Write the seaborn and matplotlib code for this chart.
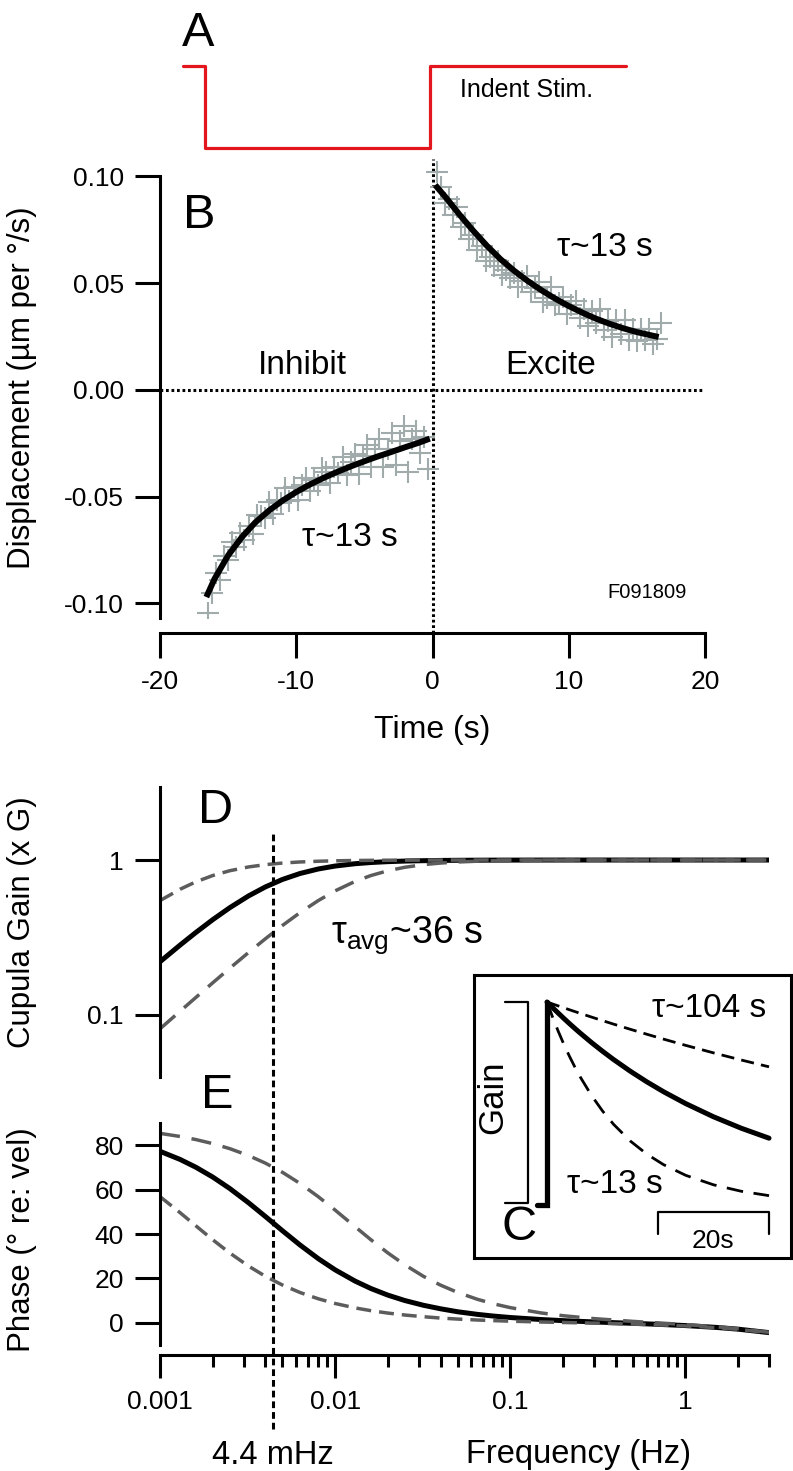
import matplotlib
matplotlib.use("Agg")
import matplotlib.pyplot as plt
import seaborn as sns
from matplotlib.ticker import LogLocator, NullFormatter, NullLocator

# ------------------------------------------------------------------ data
# Panel A: indentation stimulus (time s, level)
stim_t = [-18.3, -16.7, -16.7, -0.2, -0.2, 14.2]
stim_level = [1, 1, 0, 0, 1, 1]

# Panel B: measured displacement (crosses)
inh_t = [-16.5, -16.2, -15.9, -15.6, -15.3, -15.0, -14.7, -14.4, -14.1, -13.8,
         -13.5, -13.2, -12.9, -12.6, -12.3, -12.0, -11.7, -11.4, -11.1, -10.8,
         -10.5, -10.2, -9.9, -9.6, -9.3, -9.0, -8.7, -8.4, -8.1, -7.8,
         -7.5, -7.2, -6.9, -6.6, -6.3, -6.0, -5.7, -5.4, -5.1, -4.8,
         -4.5, -4.2, -3.9, -3.6, -3.3, -3.0, -2.7, -2.4, -2.1, -1.8,
         -1.5, -1.2, -0.9, -0.6, -0.3]
inh_y = [-0.1045, -0.0950, -0.0855, -0.0890, -0.0780, -0.0795, -0.0710, -0.0735, -0.0670, -0.0705,
         -0.0635, -0.0675, -0.0585, -0.0590, -0.0600, -0.0525, -0.0580, -0.0515, -0.0530, -0.0460,
         -0.0518, -0.0456, -0.0514, -0.0443, -0.0413, -0.0473, -0.0424, -0.0444, -0.0365, -0.0386,
         -0.0438, -0.0359, -0.0391, -0.0313, -0.0396, -0.0338, -0.0301, -0.0394, -0.0307, -0.0260,
         -0.0363, -0.0276, -0.0229, -0.0362, -0.0276, -0.0200, -0.0353, -0.0237, -0.0170, -0.0384,
         -0.0228, -0.0191, -0.0295, -0.0219, -0.0372]
exc_t = [0.3, 0.6, 0.9, 1.2, 1.5, 1.8, 2.1, 2.4, 2.7, 3.0,
         3.3, 3.6, 3.9, 4.2, 4.5, 4.8, 5.1, 5.4, 5.7, 6.0,
         6.3, 6.6, 6.9, 7.2, 7.5, 7.8, 8.1, 8.4, 8.7, 9.0,
         9.3, 9.6, 9.9, 10.2, 10.5, 10.8, 11.1, 11.4, 11.7, 12.0,
         12.3, 12.6, 12.9, 13.2, 13.5, 13.8, 14.1, 14.4, 14.7, 15.0,
         15.3, 15.6, 15.9, 16.2, 16.5, 16.8]
exc_y = [0.1023, 0.0950, 0.0877, 0.0894, 0.0820, 0.0856, 0.0762, 0.0780, 0.0707, 0.0725,
         0.0654, 0.0673, 0.0602, 0.0622, 0.0583, 0.0604, 0.0537, 0.0560, 0.0524, 0.0548,
         0.0483, 0.0509, 0.0535, 0.0461, 0.0478, 0.0506, 0.0413, 0.0431, 0.0480, 0.0398,
         0.0407, 0.0437, 0.0357, 0.0397, 0.0417, 0.0338, 0.0379, 0.0300, 0.0372, 0.0314,
         0.0377, 0.0280, 0.0322, 0.0246, 0.0330, 0.0263, 0.0327, 0.0232, 0.0286, 0.0231,
         0.0286, 0.0232, 0.0287, 0.0213, 0.0239, 0.0315]

# Panel B: exponential fits (tau ~13 s)
fit_inh_t = [-16.6, -16, -15, -14, -13, -12, -11, -10, -9, -8, -7, -6, -5, -4, -3, -2, -1, -0.2]
fit_inh_y = [-0.0970, -0.0885, -0.0775, -0.0690, -0.0620, -0.0565, -0.0518, -0.0478, -0.0443,
             -0.0412, -0.0384, -0.0358, -0.0334, -0.0311, -0.0290, -0.0268, -0.0247, -0.0228]
fit_exc_t = [0.2, 1, 2, 3, 4, 5, 6, 7, 8, 9, 10, 11, 12, 13, 14, 15, 16.6]
fit_exc_y = [0.0960, 0.0900, 0.0820, 0.0745, 0.0675, 0.0612, 0.0558, 0.0510, 0.0467,
             0.0428, 0.0393, 0.0362, 0.0334, 0.0310, 0.0289, 0.0271, 0.0248]

# Panels D/E: frequency responses (tau 36 s avg, 104 s and 13 s)
freq = [0.001, 0.0013, 0.0016, 0.002, 0.0025, 0.0032, 0.004, 0.005, 0.0063, 0.008,
        0.01, 0.013, 0.016, 0.02, 0.025, 0.032, 0.04, 0.05, 0.065, 0.08,
        0.1, 0.15, 0.2, 0.3, 0.5, 0.7, 1, 1.5, 2, 3]
gain_avg = [0.2206, 0.2822, 0.3403, 0.4122, 0.4922, 0.5863, 0.6709, 0.7492, 0.8186, 0.8752,
            0.9146, 0.9468, 0.9639, 0.9764, 0.9847, 0.9906, 0.9939, 0.9961, 0.9977, 0.9985,
            0.9990, 0.9996, 0.9998, 1.0, 1.0, 1.0, 1.0, 1.0, 1.0, 1.0]
gain_104 = [0.5470, 0.6474, 0.7227, 0.7942, 0.8529, 0.9022, 0.9340, 0.9562, 0.9717, 0.9822,
            0.9885, 0.9932, 0.9955, 0.9971, 0.9981, 0.9989, 0.9993, 0.9995, 0.9997, 0.9998,
            0.9999, 1.0, 1.0, 1.0, 1.0, 1.0, 1.0, 1.0, 1.0, 1.0]
gain_13 = [0.0814, 0.1056, 0.1296, 0.1613, 0.2001, 0.2529, 0.3106, 0.3781, 0.4576, 0.5470,
           0.6326, 0.7280, 0.7942, 0.8529, 0.8981, 0.9340, 0.9562, 0.9713, 0.9827, 0.9885,
           0.9926, 0.9967, 0.9981, 0.9992, 0.9997, 0.9998, 0.9999, 1.0, 1.0, 1.0]
phase_avg = [77.25, 73.61, 70.10, 65.66, 60.51, 54.10, 47.86, 41.48, 35.06, 28.93,
             23.85, 18.78, 15.45, 12.46, 10.03, 7.87, 6.31, 4.98, 3.79, 3.04,
             2.38, 1.47, 0.97, 0.39, -0.24, -0.69, -1.25, -2.08, -2.87, -4.42]
phase_104 = [56.84, 49.65, 43.73, 37.42, 31.47, 25.56, 20.93, 17.02, 13.65, 10.83,
             8.70, 6.71, 5.46, 4.38, 3.50, 2.74, 2.13, 1.68, 1.25, 0.98,
             0.73, 0.36, 0.14, -0.16, -0.57, -0.93, -1.41, -2.19, -2.96, -4.47]
phase_13 = [85.33, 83.94, 82.55, 80.72, 78.46, 75.35, 71.91, 67.79, 62.77, 56.84,
            50.76, 43.28, 37.42, 31.47, 26.10, 20.88, 16.96, 13.69, 10.57, 8.58,
            6.83, 4.44, 3.20, 1.89, 0.65, -0.05, -0.80, -1.78, -2.65, -4.27]
corner_freq = 0.0044

# Panel C: step responses (time s, normalised gain)
step_t = [-1.8, 0, 0]
step_y = [0, 0, 1]
inset_t = [0, 1, 2, 3, 4, 5, 6, 8, 10, 12, 15, 18, 21, 25, 30, 35, 40]
resp_avg = [1, 0.9726, 0.9460, 0.9200, 0.8948, 0.8703, 0.8465, 0.8007, 0.7575, 0.7165,
            0.6592, 0.6065, 0.5580, 0.4994, 0.4346, 0.3782, 0.3292]
resp_104 = [1, 0.9904, 0.9809, 0.9716, 0.9623, 0.9531, 0.9439, 0.9260, 0.9083, 0.8910,
            0.8657, 0.8411, 0.8171, 0.7863, 0.7494, 0.7142, 0.6807]
resp_13 = [1, 0.9260, 0.8574, 0.7940, 0.7351, 0.6807, 0.6303, 0.5404, 0.4633, 0.3973,
           0.3154, 0.2504, 0.1988, 0.1462, 0.0995, 0.0677, 0.0461]

# ------------------------------------------------------------------ style
W, H, DPI = 793, 1471, 100
RED = "#e3161e"
SCAT = "#a2abab"
DGRAY = "#5c5c5c"
TICK = 19
LAB = 23
PANEL = 35

sns.set_theme(style="ticks")
plt.rcParams["font.family"] = ["Liberation Sans", "DejaVu Sans"]
plt.rcParams["mathtext.fontset"] = "custom"
plt.rcParams["mathtext.rm"] = "Liberation Sans"
plt.rcParams["mathtext.it"] = "Liberation Sans:italic"
plt.rcParams["mathtext.bf"] = "Liberation Sans:bold"
plt.rcParams["axes.edgecolor"] = "black"
plt.rcParams["xtick.color"] = "black"
plt.rcParams["ytick.color"] = "black"
plt.rcParams["text.color"] = "black"

fig = plt.figure(figsize=(W / DPI, H / DPI), dpi=DPI)
fig.patch.set_facecolor("white")


def px_axes(l, t, r, b):
    return fig.add_axes([l / W, 1 - b / H, (r - l) / W, (b - t) / H])


def ftext(x, y, s, size, **kw):
    kw.setdefault("ha", "center")
    kw.setdefault("va", "center")
    fig.text(x / W, 1 - y / H, s, fontsize=size, **kw)


def line(ax, x, y, **kw):
    sns.lineplot(x=x, y=y, ax=ax, estimator=None, sort=False, legend=False, **kw)
    return ax.lines[-1]


def style_axis(ax):
    ax.set_facecolor("none")
    for sp in ax.spines.values():
        sp.set_linewidth(2.2)
        sp.set_color("black")


# ------------------------------------------------------------------ panel A
axA = px_axes(160, 40, 705, 160)
axA.set_xlim(-20, 20)
axA.set_ylim(-0.146, 1.317)
line(axA, stim_t, stim_level, color=RED, linewidth=2.3)
axA.axis("off")
ftext(198, 33, "A", PANEL)
ftext(527, 90, "Indent Stim.", 18)

# ------------------------------------------------------------------ panel B
axB = px_axes(160, 159.4, 705, 618.4)
style_axis(axB)
axB.set_xlim(-20, 20)
axB.set_ylim(-0.107, 0.108)
axB.plot([-20, 20], [0, 0], color="black", linewidth=2.2, dashes=(0.9, 0.9), zorder=1)
axB.plot([0, 0], [-0.114, 0.108], color="black", linewidth=2.2, dashes=(0.9, 0.9),
         zorder=1, clip_on=False)
sns.scatterplot(x=inh_t, y=inh_y, ax=axB, marker="+", s=240, color=SCAT,
                linewidth=1.5, legend=False, zorder=2)
sns.scatterplot(x=exc_t, y=exc_y, ax=axB, marker="+", s=240, color=SCAT,
                linewidth=1.5, legend=False, zorder=2)
ln = line(axB, fit_inh_t, fit_inh_y, color="black", linewidth=4.3)
ln.set_zorder(3)
ln.set_solid_capstyle("butt")
ln = line(axB, fit_exc_t, fit_exc_y, color="black", linewidth=4.3)
ln.set_zorder(3)
ln.set_solid_capstyle("butt")
sns.despine(ax=axB)
axB.spines["bottom"].set_position(("outward", 10.8))
axB.spines["left"].set_bounds(-0.107, 0.10)
axB.set_xticks([-20, -10, 0, 10, 20], labels=["-20", "-10", "0", "10", "20"])
axB.set_yticks([-0.10, -0.05, 0.0, 0.05, 0.10],
               labels=["-0.10", "-0.05", "0.00", "0.05", "0.10"])
axB.tick_params(direction="out", length=18, width=2.2, labelsize=TICK, pad=8)
axB.set_xlabel("")
axB.set_ylabel("")
ftext(199, 216, "B", PANEL)
ftext(302, 366, "Inhibit", 24)
ftext(551, 366, "Excite", 24)
ftext(605, 247, "τ~13 s", 24)
ftext(350, 537, "τ~13 s", 24)
ftext(647, 592, "F091809", 14.5)
ftext(432, 730, "Time (s)", LAB)
ftext(22, 388, "Displacement (µm per °/s)", 22.5, rotation=90)

# ------------------------------------------------------------------ panel D
axD = px_axes(160, 787, 769, 1077)
style_axis(axD)
axD.set_xscale("log")
axD.set_yscale("log")
axD.set_xlim(0.001, 3)
axD.set_ylim(0.0398, 2.96)
ln = line(axD, freq, gain_avg, color="black", linewidth=3.6)
ln = line(axD, freq, gain_104, color=DGRAY, linewidth=2.5)
ln.set_dashes([4.3, 2.3])
ln = line(axD, freq, gain_13, color=DGRAY, linewidth=2.5)
ln.set_dashes([5.8, 3.4])
for s in ["top", "right", "bottom"]:
    axD.spines[s].set_visible(False)
axD.tick_params(axis="x", which="both", bottom=False, labelbottom=False)
axD.set_yticks([0.1, 1], labels=["0.1", "1"])
axD.yaxis.set_minor_locator(NullLocator())
axD.tick_params(axis="y", direction="out", length=18, width=2.2, labelsize=TICK, pad=8)
axD.set_xlabel("")
axD.set_ylabel("")
ftext(216, 810, "D", PANEL)
ftext(331, 943, "τ$_{\\mathrm{avg}}$~36 s", 27, ha="left", va="baseline")
ftext(22, 922, "Cupula Gain (x G)", 22.5, rotation=90)

# ------------------------------------------------------------------ panel E
axE = px_axes(160, 1123, 769, 1345)
style_axis(axE)
axE.set_xscale("log")
axE.set_xlim(0.001, 3)
axE.set_ylim(-10, 90)
axE.plot([corner_freq, corner_freq], [-48, 220.7], color="black", linewidth=2.2,
         dashes=(2.2, 1.3), clip_on=False, zorder=1)
ln = line(axE, freq, phase_avg, color="black", linewidth=3.6)
ln = line(axE, freq, phase_13, color=DGRAY, linewidth=2.5)
ln.set_dashes([5.8, 3.4])
ln = line(axE, freq, phase_104, color=DGRAY, linewidth=2.5)
ln.set_dashes([4.3, 2.3])
sns.despine(ax=axE)
axE.spines["bottom"].set_position(("outward", 7.2))
axE.set_xticks([0.001, 0.01, 0.1, 1], labels=["0.001", "0.01", "0.1", "1"])
axE.xaxis.set_minor_locator(LogLocator(base=10, subs=[2, 3, 4, 5, 6, 7, 8, 9], numticks=20))
axE.xaxis.set_minor_formatter(NullFormatter())
axE.set_yticks([0, 20, 40, 60, 80], labels=["0", "20", "40", "60", "80"])
axE.tick_params(axis="y", direction="out", length=18, width=2.2, labelsize=TICK, pad=8)
axE.tick_params(axis="x", which="major", direction="out", length=16.5, width=2.2,
                labelsize=TICK, pad=9)
axE.tick_params(axis="x", which="minor", direction="out", length=8.5, width=2.2)
axE.set_xlabel("")
axE.set_ylabel("")
ftext(217, 1095, "E", PANEL)
ftext(273, 1455, "4.4 mHz", 23.5)
ftext(578, 1455, "Frequency (Hz)", 23.5)
ftext(22, 1240, "Phase (° re: vel)", 22.5, rotation=90)

# ------------------------------------------------------------------ panel C (inset)
axC = px_axes(474, 975, 791, 1258)
axC.set_facecolor("white")
for sp in axC.spines.values():
    sp.set_visible(True)
    sp.set_linewidth(2.2)
    sp.set_color("black")
axC.set_xlim(-13.15, 43.96)
axC.set_ylim(-0.261, 1.133)
axC.set_xticks([])
axC.set_yticks([])
# gain bracket and time scale bar
axC.plot([-7.57, -3.42, -3.42, -7.57], [1.0, 1.0, 0.01, 0.01], color="black", linewidth=1.6)
axC.plot([20, 20, 40, 40], [-0.143, -0.034, -0.034, -0.143], color="black", linewidth=1.6)
ln = line(axC, step_t, step_y, color="black", linewidth=3.8)
ln.set_solid_joinstyle("miter")
ln = line(axC, inset_t, resp_avg, color="black", linewidth=3.6)
ln = line(axC, inset_t, resp_104, color="black", linewidth=2.0)
ln.set_dashes([4.7, 2.6])
ln = line(axC, inset_t, resp_13, color="black", linewidth=2.0)
ln.set_dashes([6.0, 3.8])
axC.set_xlabel("")
axC.set_ylabel("")
axC.text(29.2, 0.966, "τ~104 s", fontsize=24, ha="center", va="center")
axC.text(12.25, 0.103, "τ~13 s", fontsize=24, ha="center", va="center")
axC.text(29.9, -0.177, "20s", fontsize=19, ha="center", va="center")
axC.text(-5.05, -0.113, "C", fontsize=35, ha="center", va="center")
axC.text(-9.73, 0.532, "Gain", fontsize=25, ha="center", va="center", rotation=90)

fig.savefig("out.png", dpi=DPI)
